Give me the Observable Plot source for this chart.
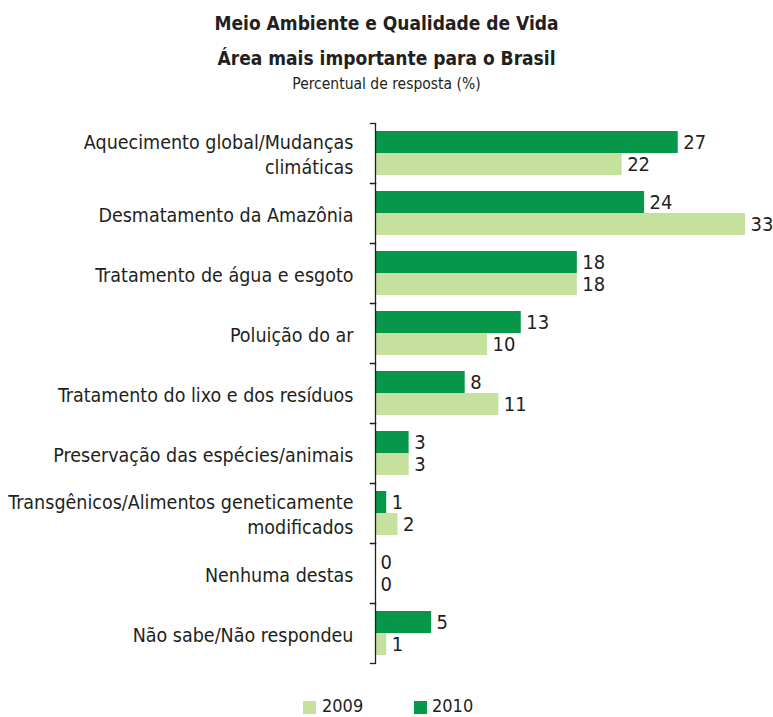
<!DOCTYPE html>
<html>
<head>
<meta charset="utf-8">
<script src="https://cdn.jsdelivr.net/npm/d3@7"></script>
<script src="https://cdn.jsdelivr.net/npm/@observablehq/plot@0.6"></script>
<style>
  body { margin: 0; background: #fff; font-family: "DejaVu Sans Condensed", sans-serif; color: #231F20; }
  #wrap { position: relative; width: 773px; height: 717px; overflow: hidden; }
  .t { position: absolute; left: 0; width: 773px; text-align: center; line-height: 1; white-space: nowrap; }
  .t1 { top: 14px; font-size: 19px; font-weight: bold; }
  .t2 { top: 49px; font-size: 19px; font-weight: bold; }
  .t3 { top: 77px; font-size: 15.5px; }
  #chart { position: absolute; left: 0; top: 100px; }
  .sw { position: absolute; width: 13px; height: 13px; top: 701px; }
  .lt { position: absolute; top: 697px; font-size: 18px; line-height: 1; }
</style>
</head>
<body>
<div id="wrap">
  <div class="t t1">Meio Ambiente e Qualidade de Vida</div>
  <div class="t t2">Área mais importante para o Brasil</div>
  <div class="t t3">Percentual de resposta (%)</div>
  <div id="chart"></div>
  <div class="sw" style="left:303px;background:#C6E09E"></div><div class="lt" style="left:322px">2009</div>
  <div class="sw" style="left:414px;background:#07974A"></div><div class="lt" style="left:432px">2010</div>
</div>
<script>
const categories = [
  "Aquecimento global/Mudanças\nclimáticas",
  "Desmatamento da Amazônia",
  "Tratamento de água e esgoto",
  "Poluição do ar",
  "Tratamento do lixo e dos resíduos",
  "Preservação das espécies/animais",
  "Transgênicos/Alimentos geneticamente\nmodificados",
  "Nenhuma destas",
  "Não sabe/Não respondeu"
];
const years = ["2010", "2009"];
const values2010 = [27, 24, 18, 13, 8, 3, 1, 0, 5];
const values2009 = [22, 33, 18, 10, 11, 3, 2, 0, 1];
const colors = { "2009": "#C6E09E", "2010": "#07974A" };

const rows = [];
categories.forEach((c, i) => {
  rows.push({ cat: c, year: "2010", value: values2010[i] });
  rows.push({ cat: c, year: "2009", value: values2009[i] });
});

const W = 773, ML = 375, MR = 28;
const plotW = W - ML - MR;
const font = "DejaVu Sans Condensed, sans-serif";

const chart = Plot.plot({
  width: W,
  height: 580,
  marginLeft: ML,
  marginRight: MR,
  marginTop: 20,
  marginBottom: 15,
  style: { fontFamily: font, color: "#231F20", background: "transparent" },
  x: { domain: [0, 33], axis: null },
  y: { domain: years, paddingInner: 0, paddingOuter: 0.32, axis: null },
  fy: { domain: categories, padding: 0, axis: null, label: null },
  color: { domain: ["2009", "2010"], range: [colors["2009"], colors["2010"]] },
  marks: [
    Plot.barX(rows, { fy: "cat", y: "year", x: "value", fill: "year" }),
    Plot.text(rows, { fy: "cat", y: "year", x: "value", text: d => String(d.value), textAnchor: "start", dx: 5, fontSize: 20, fill: "#231F20" }),
    Plot.text(categories, { fy: d => d, text: d => d, frameAnchor: "left", textAnchor: "end", dx: -22, fontSize: 19.5, lineHeight: 1.28, fill: "#231F20" }),
    Plot.ruleX([0], { stroke: "#231F20", strokeWidth: 1.3 }),
    Plot.frame({ anchor: "top", insetLeft: -5, insetRight: plotW, stroke: "#231F20", strokeWidth: 1.3 }),
    Plot.frame({ anchor: "bottom", insetLeft: -5, insetRight: plotW, stroke: "#231F20", strokeWidth: 1.3 })
  ]
});
document.getElementById("chart").appendChild(chart);
</script>
</body>
</html>
